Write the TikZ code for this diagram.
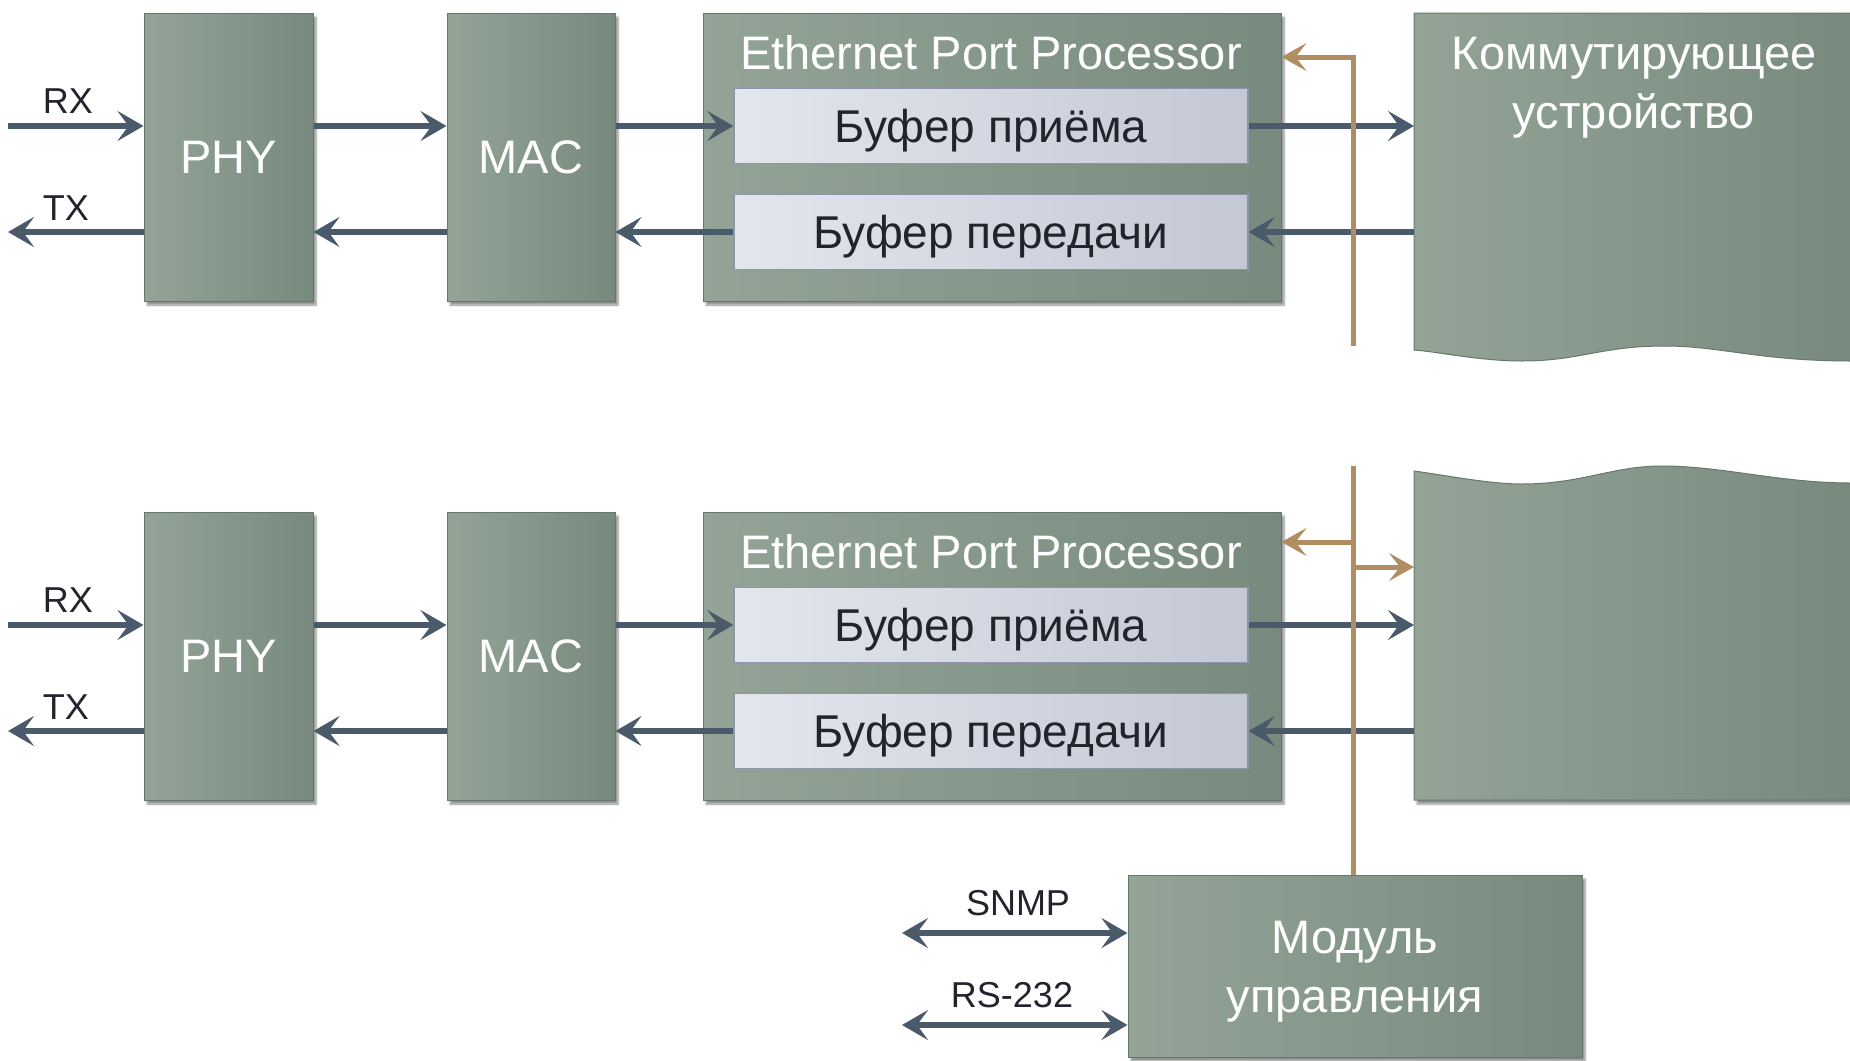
\documentclass[tikz,border=0pt]{standalone}
\usepackage{fontspec}
\setmainfont{Liberation Sans}
\usetikzlibrary{arrows.meta,shadows.blur}
\definecolor{gl}{HTML}{93A497}
\definecolor{gd}{HTML}{788A7E}
\definecolor{gb}{HTML}{66776B}
\definecolor{bl}{HTML}{E4E6EE}
\definecolor{bd}{HTML}{C4C8D4}
\definecolor{bb}{HTML}{8D95AD}
\definecolor{ar}{HTML}{4B5A6B}
\definecolor{orn}{HTML}{B08E62}
\definecolor{tx}{HTML}{23232E}
\begin{document}
\begin{tikzpicture}[x=1bp,y=-1bp,
 shadowed/.style={blur shadow={shadow xshift=3bp,shadow yshift=-4bp,shadow blur steps=6,shadow opacity=45}},
 gbox/.style={draw=gb, line width=1bp, left color=gl, right color=gd, inner sep=0pt,
   text=white, font=\fontsize{47bp}{58bp}\selectfont, align=center, shadowed},
 bbox/.style={draw=bb, line width=1.3bp, left color=bl, right color=bd, inner sep=0pt,
   text=tx, font=\fontsize{46bp}{56bp}\selectfont, minimum width=514bp, minimum height=75bp,
   text depth=0pt},
 wtxt/.style={text=white, font=\fontsize{47bp}{59bp}\selectfont, align=center, inner sep=0pt},
 lab/.style={text=tx, font=\fontsize{36bp}{42bp}\selectfont, inner sep=0pt},
 tipd/.tip={Stealth[length=26bp,width=30bp,inset=11bp]},
 darr/.style={draw=ar, line width=6bp, -tipd},
 dboth/.style={draw=ar, line width=6bp, tipd-tipd},
 oline/.style={draw=orn, line width=5bp},
 oarr/.style={draw=orn, line width=5bp, -{Stealth[length=25bp,width=28bp,inset=11bp]}},
]
\useasboundingbox (0,0) rectangle (1850,1060);

% ---------- top row ----------
\node[gbox, minimum width=169bp, minimum height=288bp] (phy1) at (228.5,157) {PHY};
\node[gbox, minimum width=168bp, minimum height=288bp] (mac1) at (531,157) {MAC};
\node[gbox, minimum width=578bp, minimum height=288bp] (epp1) at (992,157) {};
\node[wtxt] (ept1) at (991,53) {Ethernet Port Processor};
\node[bbox] (brx1) at (991,126) {Буфер приёма};
\node[bbox] (btx1) at (991,232) {Буфер передачи};
\path[draw=gb, line width=1bp, left color=gl, right color=gd]
  (1414,13) -- (1851,13) -- (1851,361)
  .. controls (1760,361) and (1720,346) .. (1665,346)
  .. controls (1600,346) and (1580,361) .. (1522,361)
  .. controls (1480,361) and (1440,352) .. (1414,350) -- cycle;
\coordinate (sw1w) at (1414,157);
\node[wtxt] (swt1) at (1634,87.5) {Коммутирующее\\устройство};

\coordinate (rx1) at (8,126);
\coordinate (tx1) at (8,232);
\node[lab] (rxl1) at (68,101) {RX};
\node[lab] (txl1) at (66,208) {TX};

\draw[darr] (rx1) -- (rx1 -| phy1.west);
\draw[darr] (phy1.west |- tx1) -- (tx1);
\draw[darr] (phy1.east |- rx1) -- (mac1.west |- rx1);
\draw[darr] (mac1.east |- rx1) -- (brx1.west);
\draw[darr] (brx1.east) -- (sw1w |- brx1);
\draw[darr] (sw1w |- btx1) -- (btx1.east);
\draw[darr] (btx1.west) -- (mac1.east |- btx1);
\draw[darr] (mac1.west |- btx1) -- (phy1.east |- btx1);

\coordinate (ob1) at (1353,346);
\coordinate (ot1) at (1353,57);
\draw[oarr] (ob1) -- (ot1) -- (epp1.east |- ot1);

% ---------- bottom row ----------
\node[gbox, minimum width=169bp, minimum height=288bp] (phy2) at (228.5,656) {PHY};
\node[gbox, minimum width=168bp, minimum height=288bp] (mac2) at (531,656) {MAC};
\node[gbox, minimum width=578bp, minimum height=288bp] (epp2) at (992,656) {};
\node[wtxt] (ept2) at (991,552) {Ethernet Port Processor};
\node[bbox] (brx2) at (991,625) {Буфер приёма};
\node[bbox] (btx2) at (991,731) {Буфер передачи};
\path[draw=gb, line width=1bp, left color=gl, right color=gd, shadowed]
  (1414,471) .. controls (1450,476) and (1490,484) .. (1522,484)
  .. controls (1582,484) and (1612,466) .. (1662,466)
  .. controls (1722,466) and (1780,483) .. (1851,483)
  -- (1851,800) -- (1414,800) -- cycle;
\coordinate (sw2w) at (1414,656);

\coordinate (rx2) at (8,625);
\coordinate (tx2) at (8,731);
\node[lab] (rxl2) at (68,600) {RX};
\node[lab] (txl2) at (66,707) {TX};

\draw[darr] (rx2) -- (rx2 -| phy2.west);
\draw[darr] (phy2.west |- tx2) -- (tx2);
\draw[darr] (phy2.east |- rx2) -- (mac2.west |- rx2);
\draw[darr] (mac2.east |- rx2) -- (brx2.west);
\draw[darr] (brx2.east) -- (sw2w |- brx2);
\draw[darr] (sw2w |- btx2) -- (btx2.east);
\draw[darr] (btx2.west) -- (mac2.east |- btx2);
\draw[darr] (mac2.west |- btx2) -- (phy2.east |- btx2);

% ---------- management ----------
\node[gbox, minimum width=454bp, minimum height=182bp] (mgmt) at (1355,966) {};
\node[wtxt] (mgt) at (1355,972) {Модуль\\управления};
\coordinate (snmp) at (902,933);
\coordinate (rs) at (902,1025);
\node[lab] (snmpl) at (1018,903) {SNMP};
\node[lab] (rsl) at (1012,995) {RS-232};
\draw[dboth] (snmp) -- (snmp -| mgmt.west);
\draw[dboth] (rs) -- (rs -| mgmt.west);

\coordinate (ot2) at (1353,466);
\coordinate (ol2) at (1353,542);
\coordinate (or2) at (1353,567);
\draw[oline] (ot2) -- (ot2 |- mgmt.north);
\draw[oarr] (ol2) -- (epp2.east |- ol2);
\draw[oarr] (or2) -- (sw2w |- or2);
\end{tikzpicture}
\end{document}
